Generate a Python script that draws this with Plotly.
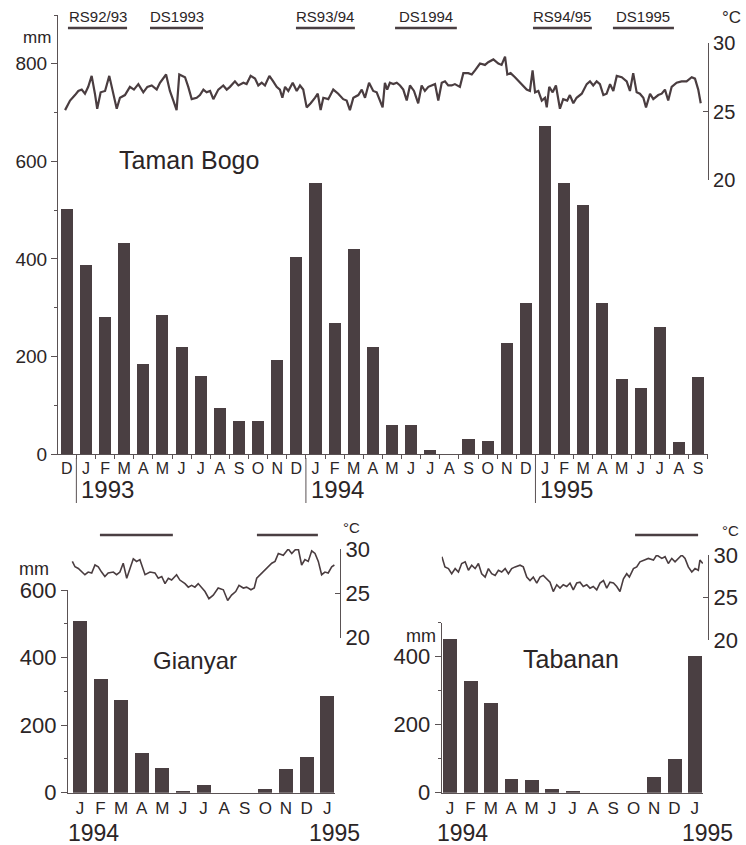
import plotly.graph_objects as go

W, H = 746, 845
INK = "#2b2526"
BAR = "#4a3f42"
LINE = "#4a3d40"
AXIS = "#5a5254"
FONT = "Liberation Sans, Arial, sans-serif"

# ---------------- Taman Bogo (Dec 1992 - Sep 1995) ----------------
tb_months = ["D", "J", "F", "M", "A", "M", "J", "J", "A", "S", "O", "N", "D",
             "J", "F", "M", "A", "M", "J", "J", "A", "S", "O", "N", "D",
             "J", "F", "M", "A", "M", "J", "J", "A", "S"]
tb_rain = [503, 387, 281, 432, 184, 285, 219, 160, 94, 67, 67, 192, 404,
           556, 268, 420, 220, 59, 59, 8, 0, 31, 27, 227, 310,
           672, 556, 510, 310, 153, 135, 260, 24, 157]
tb_years = ["1993", "1994", "1995"]
tb_year_start = [1, 13, 25]
tb_seasons = ["RS92/93", "DS1993", "RS93/94", "DS1994", "RS94/95", "DS1995"]
tb_season_start = [0.06, 4.35, 11.98, 17.16, 24.37, 28.55]
tb_season_end = [3.15, 7.12, 15.06, 20.39, 27.45, 31.74]
tb_temp_pos = [-0.09, 0.17, 0.43, 0.60, 0.78, 0.95, 1.12, 1.30, 1.47, 1.59, 1.77, 2.00, 2.22, 2.43,
               2.61, 2.78, 3.04, 3.30, 3.51, 3.74, 4.00, 4.21, 4.44, 4.70, 4.87, 5.19, 5.39, 5.57,
               5.74, 5.88, 6.01, 6.18, 6.35, 6.53, 6.79, 6.96, 7.14, 7.31, 7.49, 7.66, 7.92, 8.18,
               8.36, 8.53, 8.79, 8.97, 9.23, 9.40, 9.61, 9.84, 10.01, 10.19, 10.36, 10.59, 10.79,
               10.97, 11.14, 11.27, 11.41, 11.58, 11.81, 12.02, 12.19, 12.36, 12.54, 12.75, 12.97,
               13.12, 13.27, 13.41, 13.67, 13.93, 14.19, 14.45, 14.63, 14.80, 14.98, 15.24, 15.42,
               15.59, 15.80, 16.02, 16.20, 16.37, 16.51, 16.63, 16.75, 16.89, 17.07, 17.25, 17.42,
               17.59, 17.77, 17.94, 18.15, 18.37, 18.55, 18.72, 18.90, 19.07, 19.25, 19.42, 19.60,
               19.77, 19.94, 20.12, 20.29, 20.55, 20.73, 20.99, 21.17, 21.34, 21.60, 21.86, 22.03,
               22.30, 22.56, 22.73, 22.91, 23.03, 23.20, 23.43, 23.69, 24.04, 24.21, 24.35, 24.48,
               24.65, 24.83, 25.00, 25.09, 25.22, 25.40, 25.57, 25.78, 25.95, 26.16, 26.30, 26.48,
               26.65, 26.92, 27.18, 27.35, 27.52, 27.70, 27.87, 28.05, 28.22, 28.40, 28.57, 28.75,
               29.01, 29.27, 29.44, 29.61, 29.79, 29.96, 30.14, 30.28, 30.49, 30.66, 30.92, 31.10,
               31.27, 31.44, 31.62, 31.88, 32.14, 32.40, 32.67, 32.84, 33.01, 33.14]
tb_temp = [25.1, 25.8, 26.2, 26.5, 26.6, 26.3, 26.8, 27.6, 26.3, 25.2, 26.4, 26.5, 27.6, 26.4,
           25.2, 26.0, 26.2, 26.8, 26.6, 27.0, 26.4, 26.8, 26.9, 26.6, 27.1, 27.7, 26.5, 25.8,
           25.1, 27.7, 27.6, 27.5, 26.8, 25.9, 26.0, 26.2, 26.6, 26.4, 26.5, 25.9, 26.6, 26.9,
           26.6, 26.8, 27.2, 26.9, 27.1, 27.0, 27.6, 27.4, 26.9, 27.1, 26.9, 27.6, 27.2,
           26.8, 26.6, 26.0, 26.8, 26.5, 27.1, 26.5, 26.9, 26.6, 25.3, 25.6, 26.0,
           26.3, 25.1, 26.0, 25.9, 26.6, 26.3, 25.9, 25.8, 25.1, 26.0, 26.2, 26.6,
           26.0, 27.1, 26.5, 26.4, 25.8, 25.3, 27.1, 26.6, 27.1, 27.0, 27.1, 26.9,
           26.6, 25.8, 26.9, 26.5, 25.6, 26.9, 26.5, 26.8, 26.9, 27.0, 25.8, 27.1,
           27.2, 26.9, 26.9, 27.0, 26.8, 27.8, 27.8, 27.7, 28.0, 28.5, 28.4, 28.6,
           28.8, 28.5, 28.4, 29.0, 27.7, 27.8, 27.5, 27.1, 26.6, 26.5, 28.0, 26.4,
           26.5, 25.8, 26.0, 25.3, 26.8, 26.4, 26.9, 25.2, 25.9, 25.8, 26.2, 25.6,
           26.0, 26.3, 27.0, 27.2, 26.9, 27.2, 27.0, 26.2, 26.3, 27.0, 26.5, 27.6,
           27.5, 27.2, 26.5, 27.8, 26.4, 26.3, 26.0, 25.3, 26.3, 25.9, 26.2, 26.3,
           26.6, 25.8, 26.8, 27.1, 27.2, 27.2, 27.5, 27.4, 26.6, 25.6]

# ---------------- Gianyar (Jan 1994 - Jan 1995) ----------------
gy_months = ["J", "F", "M", "A", "M", "J", "J", "A", "S", "O", "N", "D", "J"]
gy_rain = [507, 336, 273, 117, 74, 5, 22, 0, 0, 11, 71, 107, 287]
gy_years = ["1994", "1995"]
gy_season_start = [0.97, 8.59]
gy_season_end = [4.51, 11.55]
gy_temp_pos = [-0.37, -0.24, -0.08, 0.08, 0.24, 0.40, 0.57, 0.73, 0.89, 1.05, 1.21, 1.37, 1.62,
               1.78, 1.94, 2.10, 2.27, 2.43, 2.59, 2.75, 2.91, 3.16, 3.40, 3.64, 3.80, 3.97,
               4.13, 4.29, 4.45, 4.69, 4.85, 5.10, 5.26, 5.42, 5.58, 5.74, 5.91, 6.07, 6.26,
               6.47, 6.71, 6.96, 7.17, 7.36, 7.56, 7.72, 7.93, 8.09, 8.30, 8.46, 8.58, 8.82,
               8.98, 9.14, 9.31, 9.47, 9.63, 9.87, 10.11, 10.28, 10.44, 10.60, 10.76, 10.92,
               11.08, 11.25, 11.41, 11.57, 11.73, 11.89, 12.05, 12.22, 12.35]
gy_temp = [28.6, 28.0, 27.8, 27.4, 27.1, 27.4, 27.3, 28.2, 28.0, 27.4, 26.9, 27.3, 27.4,
           27.1, 27.4, 28.4, 26.7, 27.8, 28.9, 28.6, 28.8, 27.1, 27.4, 27.3, 26.7, 26.9,
           26.1, 26.7, 26.5, 27.1, 26.5, 26.1, 25.7, 25.9, 25.7, 26.1, 25.6, 25.2, 24.4,
           24.8, 25.6, 25.4, 24.2, 24.8, 25.2, 25.9, 25.6, 25.7, 25.4, 25.6, 26.7, 27.3,
           27.6, 28.0, 28.4, 28.6, 29.5, 29.3, 30.0, 29.5, 29.9, 30.0, 28.2, 28.8,
           28.6, 29.8, 29.5, 28.6, 27.1, 27.4, 27.3, 28.0, 28.2]

# ---------------- Tabanan (Jan 1994 - Jan 1995) ----------------
tn_months = ["J", "F", "M", "A", "M", "J", "J", "A", "S", "O", "N", "D", "J"]
tn_rain = [454, 328, 266, 42, 39, 11, 5, 0, 0, 0, 47, 100, 404]
tn_years = ["1994", "1995"]
tn_season_start = [9.07]
tn_season_end = [12.16]
tn_temp_pos = [-0.40, -0.25, -0.08, 0.08, 0.25, 0.41, 0.57, 0.74, 0.90, 1.06, 1.23, 1.39, 1.55,
               1.72, 1.88, 2.04, 2.21, 2.37, 2.53, 2.70, 2.86, 3.02, 3.19, 3.43, 3.59, 3.76,
               3.92, 4.08, 4.25, 4.41, 4.57, 4.74, 4.90, 5.06, 5.23, 5.39, 5.55, 5.72, 5.88,
               6.04, 6.21, 6.37, 6.53, 6.70, 6.86, 7.02, 7.19, 7.35, 7.52, 7.68, 7.84, 8.01,
               8.17, 8.33, 8.50, 8.66, 8.79, 8.99, 9.15, 9.31, 9.48, 9.72, 9.97, 10.13, 10.38,
               10.54, 10.70, 10.87, 11.03, 11.19, 11.36, 11.52, 11.68, 11.85, 12.01, 12.17,
               12.25, 12.39]
tn_temp = [29.8, 28.6, 28.4, 27.8, 28.4, 28.0, 29.0, 29.2, 28.2, 28.8, 28.4, 29.0, 27.8,
           27.4, 28.4, 27.8, 27.6, 28.2, 28.0, 28.4, 27.8, 28.4, 28.6, 28.8, 28.6, 27.4,
           27.0, 27.4, 26.7, 27.4, 27.6, 27.2, 26.8, 25.7, 26.5, 26.1, 26.5, 26.3, 26.7,
           25.9, 26.7, 26.8, 26.3, 26.5, 26.1, 26.3, 25.9, 26.7, 27.0, 26.1, 26.8, 26.7,
           26.3, 25.7, 27.2, 27.8, 27.4, 28.4, 28.6, 29.2, 29.4, 29.6, 29.4, 30.0, 29.6,
           29.8, 29.0, 29.6, 29.2, 29.6, 30.0, 29.6, 28.6, 28.0, 28.4, 28.2,
           29.4, 29.0]


def fx(p):
    return p / W


def fy(p):
    return 1 - p / H


fig = go.Figure()

# bars
fig.add_trace(go.Bar(x=list(range(len(tb_rain))), y=tb_rain, width=0.63,
                     marker=dict(color=BAR, line=dict(width=0)), xaxis="x", yaxis="y"))
fig.add_trace(go.Bar(x=list(range(len(gy_rain))), y=gy_rain, width=0.68,
                     marker=dict(color=BAR, line=dict(width=0)), xaxis="x2", yaxis="y3"))
fig.add_trace(go.Bar(x=list(range(len(tn_rain))), y=tn_rain, width=0.68,
                     marker=dict(color=BAR, line=dict(width=0)), xaxis="x3", yaxis="y5"))

# temperature lines
fig.add_trace(go.Scatter(x=tb_temp_pos, y=tb_temp, mode="lines",
                         line=dict(color=LINE, width=2.2), xaxis="x", yaxis="y2"))
fig.add_trace(go.Scatter(x=gy_temp_pos, y=gy_temp, mode="lines",
                         line=dict(color=LINE, width=1.6), xaxis="x2", yaxis="y4"))
fig.add_trace(go.Scatter(x=tn_temp_pos, y=tn_temp, mode="lines",
                         line=dict(color=LINE, width=1.6), xaxis="x3", yaxis="y6"))

common_axis = dict(showline=True, linecolor=AXIS, linewidth=1.2, showgrid=False,
                   zeroline=False, color=INK, automargin=False)


def month_xaxis(domain, rng, anchor, months, size, boundary_ticks):
    d = dict(common_axis, domain=domain, range=rng, anchor=anchor,
             tickmode="array", tickvals=list(range(len(months))), ticktext=months,
             ticks="", tickfont=dict(family=FONT, size=size, color=INK))
    if boundary_ticks:
        d["minor"] = dict(tickmode="array",
                          tickvals=[i - 0.5 for i in range(len(months) + 1)],
                          ticks="outside", ticklen=4, tickcolor=AXIS, showgrid=False)
    return d


def rain_yaxis(domain, rng, anchor, major, minor, size):
    return dict(common_axis, domain=domain, range=rng, anchor=anchor,
                tickmode="array", tickvals=major, ticks="outside", ticklen=6,
                tickcolor=AXIS, tickfont=dict(family=FONT, size=size, color=INK),
                minor=dict(tickmode="array", tickvals=minor, ticks="outside",
                           ticklen=3, tickcolor=AXIS, showgrid=False))


def temp_yaxis(domain, size, **kw):
    return dict(common_axis, domain=domain, range=[20, 30], side="right",
                tickmode="array", tickvals=[20, 25, 30], ticks="inside", ticklen=5,
                tickcolor=AXIS, tickfont=dict(family=FONT, size=size, color=INK), **kw)


fig.update_layout(
    width=W, height=H, margin=dict(l=0, r=0, t=0, b=0, autoexpand=False),
    paper_bgcolor="white", plot_bgcolor="rgba(0,0,0,0)", showlegend=False,
    bargap=0,
    xaxis=month_xaxis([fx(58), fx(708)], [-0.46, 33.52], "y", tb_months, 16, True),
    yaxis=rain_yaxis([fy(454), fy(15)], [0, 900], "x", [0, 200, 400, 600, 800],
                     [100, 300, 500, 700, 900], 19),
    yaxis2=temp_yaxis([fy(180), fy(43)], 20, anchor="x"),
    xaxis2=month_xaxis([fx(68), fx(335)], [-0.58, 12.38], "y3", gy_months, 17, False),
    yaxis3=rain_yaxis([fy(792.7), fy(590)], [0, 600], "x2", [0, 200, 400, 600],
                      [100, 300, 500], 22),
    yaxis4=temp_yaxis([fy(637.7), fy(549)], 22, anchor="free", position=fx(340)),
    xaxis3=month_xaxis([fx(441.7), fx(703)], [-0.41, 12.40], "y5", tn_months, 17, False),
    yaxis5=rain_yaxis([fy(792.7), fy(622.7)], [0, 500], "x3", [0, 200, 400],
                      [100, 300, 500], 22),
    yaxis6=temp_yaxis([fy(640), fy(555)], 22, anchor="free", position=fx(708)),
)

shapes = []
annotations = []


def note(text, x, y, size, xanchor="center", xref="paper", **kw):
    annotations.append(dict(text=text, x=x, y=y, xref=xref, yref="paper",
                            xanchor=xanchor, yanchor="middle", showarrow=False,
                            font=dict(family=FONT, size=size, color=INK), **kw))


# Taman Bogo seasons
for lab, s, e in zip(tb_seasons, tb_season_start, tb_season_end):
    shapes.append(dict(type="line", xref="x", yref="paper", x0=s, x1=e,
                       y0=fy(28), y1=fy(28), line=dict(color=BAR, width=2.5)))
    note(lab, (s + e) / 2, fy(16), 15, xref="x")

# Taman Bogo year separators
for lab, st in zip(tb_years, tb_year_start):
    shapes.append(dict(type="line", xref="x", yref="paper", x0=st - 0.5, x1=st - 0.5,
                       y0=fy(458), y1=fy(503), line=dict(color=AXIS, width=1)))
    note(lab, st - 0.5, fy(489), 24, xanchor="left", xref="x", xshift=3)

note("mm", fx(37), fy(37), 17)
note("°C", fx(731), fy(18), 17)
note("Taman Bogo", fx(189), fy(160), 25)

# Gianyar
for s, e in zip(gy_season_start, gy_season_end):
    shapes.append(dict(type="line", xref="x2", yref="paper", x0=s, x1=e,
                       y0=fy(535), y1=fy(535), line=dict(color=BAR, width=2.5)))
note("mm", fx(34), fy(569), 18)
note("°C", fx(351), fy(527), 15)
note("Gianyar", fx(195), fy(660), 24)
note(gy_years[0], fx(93), fy(833), 23)
note(gy_years[1], fx(334), fy(833), 23)

# Tabanan
for s, e in zip(tn_season_start, tn_season_end):
    shapes.append(dict(type="line", xref="x3", yref="paper", x0=s, x1=e,
                       y0=fy(535), y1=fy(535), line=dict(color=BAR, width=2.5)))
note("mm", fx(421), fy(636), 18)
note("°C", fx(730), fy(530), 15)
note("Tabanan", fx(571), fy(659), 25)
note(tn_years[0], fx(462), fy(833), 23)
note(tn_years[1], fx(707), fy(833), 23)

fig.update_layout(shapes=shapes, annotations=annotations)
fig.write_html("out.html")
